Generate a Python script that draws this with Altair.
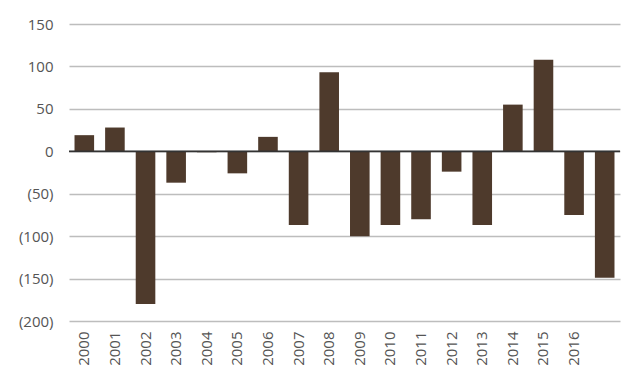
import altair as alt
import pandas as pd

years = ["2000", "2001", "2002", "2003", "2004", "2005", "2006", "2007", "2008",
         "2009", "2010", "2011", "2012", "2013", "2014", "2015", "2016", "2017"]
values = [19, 28, -180, -37, -1, -26, 17, -87, 93,
          -100, -87, -80, -24, -87, 55, 108, -75, -149]
y_ticks = [150, 100, 50, 0, -50, -100, -150, -200]

df = pd.DataFrame({"year": years, "value": values})

FONT = "Open Sans"

bars = alt.Chart(df).mark_bar(color="#4e3a2c").encode(
    x=alt.X("year:N", sort=years,
            scale=alt.Scale(paddingInner=0.36, paddingOuter=0.18),
            axis=alt.Axis(title=None, labelAngle=-90, labelFontSize=15,
                          labelColor="#555555", labelFont=FONT, ticks=False,
                          domain=False, labelPadding=10,
                          labelExpr="datum.value == '2017' ? '' : datum.label")),
    y=alt.Y("value:Q", scale=alt.Scale(domain=[-200, 150], nice=False),
            axis=alt.Axis(title=None, values=y_ticks, ticks=False, domain=False,
                          grid=True, gridColor="#bdbdbd", gridWidth=1.5,
                          labelFontSize=15, labelColor="#555555", labelFont=FONT,
                          labelPadding=16,
                          labelExpr="datum.value < 0 ? '(' + format(-datum.value, 'd') + ')' : datum.label")),
)

zero = alt.Chart(pd.DataFrame({"z": [0]})).mark_rule(color="#333333", strokeWidth=1.8).encode(
    y="z:Q"
)

chart = alt.layer(bars, zero).properties(
    width=551, height=297,
    autosize=alt.AutoSizeParams(type="none"),
    padding={"left": 61, "top": 16, "right": 12, "bottom": 56},
    background="white",
).configure_view(stroke=None)

chart.save("out.html", embed_options={"renderer": "svg", "actions": False})
